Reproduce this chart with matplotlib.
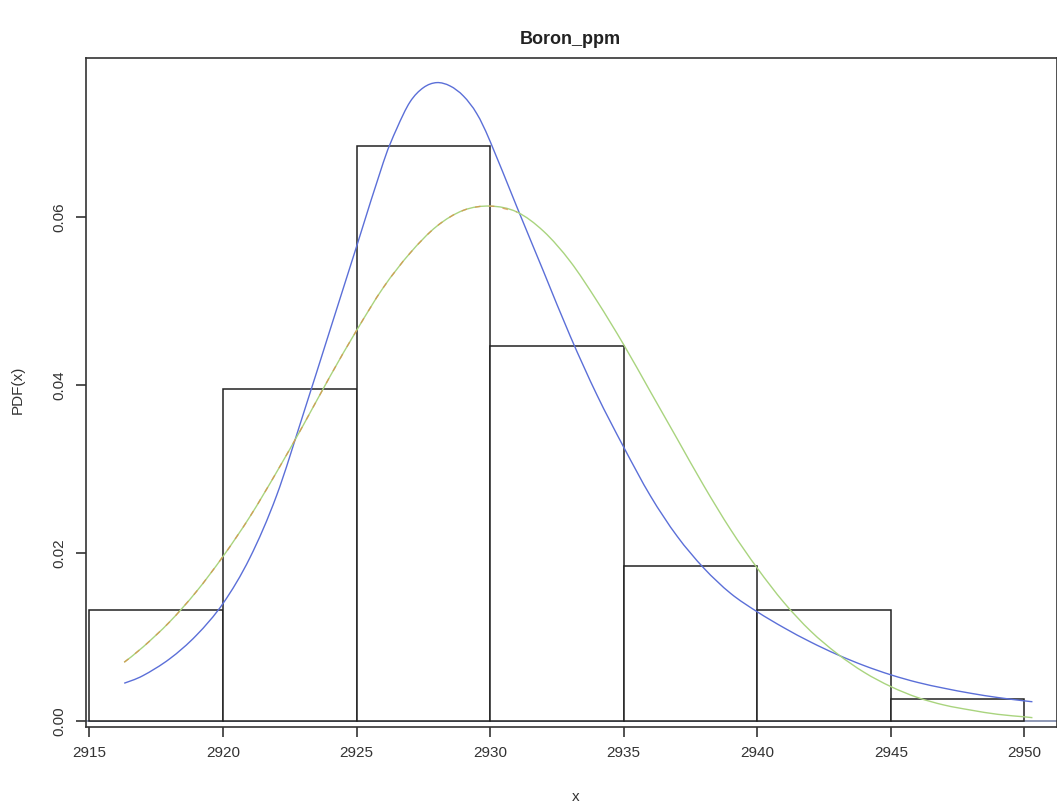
import matplotlib
matplotlib.use("Agg")
import matplotlib.pyplot as plt
from matplotlib.path import Path
from matplotlib.patches import PathPatch

plt.rcParams['font.family'] = ['Liberation Sans', 'DejaVu Sans']

# histogram (density), bins of width 5
bin_left = [2915, 2920, 2925, 2930, 2935, 2940, 2945]
density = [0.0132, 0.0395, 0.0684, 0.0447, 0.0184, 0.0132, 0.0026]

# blue fitted curve
blue_x = [2916.3, 2917, 2918, 2919, 2920, 2921, 2922, 2923, 2924, 2925, 2926,
          2926.5, 2927, 2927.5, 2928, 2928.5, 2929, 2929.5, 2930, 2931, 2932,
          2933, 2934, 2935, 2936, 2937, 2938, 2939, 2940, 2941, 2942, 2943,
          2944, 2945, 2946, 2947, 2948, 2949, 2950, 2950.3]
blue_y = [0.0045, 0.0054, 0.0074, 0.0102, 0.0140, 0.0194, 0.0268, 0.0365, 0.0465,
          0.0565, 0.0665, 0.0705, 0.0737, 0.0754, 0.0760, 0.0756, 0.0744, 0.0723,
          0.0690, 0.0612, 0.0535, 0.0458, 0.0388, 0.0326, 0.0268, 0.0220, 0.0182,
          0.0152, 0.0130, 0.0111, 0.0094, 0.0079, 0.0066, 0.0055, 0.0046, 0.0039,
          0.0033, 0.0028, 0.0024, 0.0023]

# green/orange fitted curve
green_x = [2916.3, 2917, 2918, 2919, 2920, 2921, 2922, 2923, 2924, 2925, 2926,
           2927, 2928, 2929, 2930, 2931, 2932, 2933, 2934, 2935, 2936, 2937,
           2938, 2939, 2940, 2941, 2942, 2943, 2944, 2945, 2946, 2947, 2948,
           2949, 2950, 2950.3]
green_y = [0.0070, 0.0088, 0.0118, 0.0154, 0.0196, 0.0243, 0.0296, 0.0352, 0.0410,
           0.0465, 0.0516, 0.0557, 0.0589, 0.0608, 0.0613, 0.0606, 0.0583, 0.0547,
           0.0500, 0.0448, 0.0392, 0.0336, 0.0280, 0.0228, 0.0182, 0.0141, 0.0107,
           0.0080, 0.0058, 0.0041, 0.0028, 0.0019, 0.0013, 0.0008, 0.0005, 0.0004]

x_ticks = [2915, 2920, 2925, 2930, 2935, 2940, 2945, 2950]
y_ticks = [0.00, 0.02, 0.04, 0.06]


def smooth_path(xs, ys):
    # bezier path through the points (catmull-rom style handles)
    n = len(xs)
    verts = [(xs[0], ys[0])]
    codes = [Path.MOVETO]
    for i in range(n - 1):
        a = max(i - 1, 0)
        b = min(i + 2, n - 1)
        c1 = (xs[i] + (xs[i + 1] - xs[a]) / 6, ys[i] + (ys[i + 1] - ys[a]) / 6)
        c2 = (xs[i + 1] - (xs[b] - xs[i]) / 6, ys[i + 1] - (ys[b] - ys[i]) / 6)
        verts += [c1, c2, (xs[i + 1], ys[i + 1])]
        codes += [Path.CURVE4] * 3
    return Path(verts, codes)


fig = plt.figure(figsize=(10.57, 8.09), dpi=100)
ax = fig.add_axes([86 / 1057, 1 - 727 / 809, 1 - 86 / 1057, (727 - 58) / 809])

ax.axhline(0, color='#7a86a8', lw=1.2, zorder=1)
ax.bar(bin_left, density, width=5, align='edge', facecolor='white',
       edgecolor='#222222', lw=1.1, zorder=2)

ax.add_patch(PathPatch(smooth_path(blue_x, blue_y), fill=False,
                       edgecolor='#5b6fd8', lw=1.0, zorder=3))
ax.add_patch(PathPatch(smooth_path(green_x, green_y), fill=False,
                       edgecolor='#a9d47e', lw=1.0, zorder=3))
# orange flecks along the left part of the second curve
ax.add_patch(PathPatch(smooth_path(green_x[:16], green_y[:16]), fill=False,
                       edgecolor='#d99048', lw=1.0, zorder=4,
                       linestyle=(0, (4, 6)), alpha=0.75))

ax.set_xlim(2914.87, 2951.22)
ax.set_ylim(-0.00071, 0.07893)

ax.set_xticks(x_ticks)
ax.set_xticklabels([str(t) for t in x_ticks], fontsize=11)
ax.set_yticks(y_ticks)
ax.set_yticklabels(['%.2f' % t for t in y_ticks], fontsize=11, rotation=90,
                   va='center')
ax.tick_params(axis='both', direction='out', length=7, width=1.1, pad=7,
               colors='#222222', labelcolor='#333333')
for side in ['left', 'bottom', 'top', 'right']:
    ax.spines[side].set_color('#333333')
    ax.spines[side].set_linewidth(1.2)

fig.text(18 / 1057, 1 - 390 / 809, 'PDF(x)', rotation=90, ha='center',
         va='center', fontsize=11, color='#333333')
fig.text(576 / 1057, 1 - 797 / 809, 'x', ha='center', va='center',
         fontsize=11, color='#333333')
fig.text(570 / 1057, 1 - 40 / 809, 'Boron_ppm', ha='center', va='center',
         fontsize=13, fontweight='bold', color='#222222')

fig.savefig('out.png', dpi=100)
